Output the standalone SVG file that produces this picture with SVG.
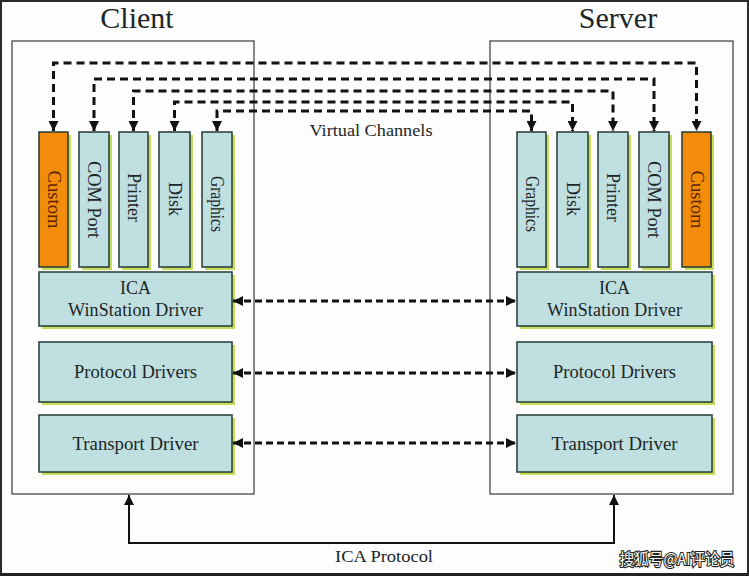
<svg xmlns="http://www.w3.org/2000/svg" width="749" height="576" viewBox="0 0 749 576">
<defs>
<style>
.t{font-family:"Liberation Serif","Times New Roman",serif;fill:#1c2626;}
.v{font-size:19px;}
.b{font-size:18px;}
.box{fill:#bfdfe1;stroke:#203a34;stroke-width:1.5;}
.org{fill:#f28c0a;stroke:#203a34;stroke-width:1.5;}
.sh{fill:#c6dc5a;}
.frame{fill:none;stroke:#3a3a3a;stroke-width:1.2;}
.dash{fill:none;stroke:#111;stroke-width:3;stroke-dasharray:8 5;}
.dash2{fill:none;stroke:#111;stroke-width:3;stroke-dasharray:7 4;}
.solid{fill:none;stroke:#111;stroke-width:2;}
</style>
<marker id="ah" viewBox="0 0 10 10" refX="10" refY="5" markerWidth="10" markerHeight="10" markerUnits="userSpaceOnUse" orient="auto-start-reverse">
<path d="M0,0 L10,5 L0,10 Z" fill="#111"/>
</marker>
</defs>
<rect x="0" y="0" width="749" height="576" fill="#fdfdfd"/>
<rect x="1" y="1" width="747" height="573" fill="none" stroke="#2a2a2a" stroke-width="2"/>
<line x1="0" y1="574.5" x2="749" y2="574.5" stroke="#222" stroke-width="3"/>

<g id="client">
<text class="t" x="137" y="28" font-size="30" text-anchor="middle">Client</text>
<rect class="frame" x="12" y="41" width="242" height="453"/>
</g>
<g id="server">
<text class="t" x="618" y="28" font-size="30" text-anchor="middle">Server</text>
<rect class="frame" x="490" y="41" width="243" height="453"/>
</g>

<g id="c-custom"><rect class="sh" x="42" y="135" width="29" height="135"/><rect class="org" x="39" y="132" width="29" height="135"/><text class="t v" text-anchor="middle" transform="translate(53.5,199.5) rotate(90)" dy="6" style="fill:#5a2400" textLength="58" lengthAdjust="spacingAndGlyphs">Custom</text></g>
<g id="c-com"><rect class="sh" x="82" y="135" width="30" height="135"/><rect class="box" x="79" y="132" width="30" height="135"/><text class="t v" text-anchor="middle" transform="translate(94,199.5) rotate(90)" dy="6" textLength="77" lengthAdjust="spacingAndGlyphs">COM Port</text></g>
<g id="c-printer"><rect class="sh" x="122" y="135" width="29" height="135"/><rect class="box" x="119" y="132" width="29" height="135"/><text class="t v" text-anchor="middle" transform="translate(133.5,197.5) rotate(90)" dy="6" textLength="49" lengthAdjust="spacingAndGlyphs">Printer</text></g>
<g id="c-disk"><rect class="sh" x="162" y="135" width="31" height="135"/><rect class="box" x="159" y="132" width="31" height="135"/><text class="t v" text-anchor="middle" transform="translate(174.5,199) rotate(90)" dy="6" textLength="34" lengthAdjust="spacingAndGlyphs">Disk</text></g>
<g id="c-graphics"><rect class="sh" x="205" y="135" width="30" height="135"/><rect class="box" x="202" y="132" width="30" height="135"/><text class="t v" text-anchor="middle" transform="translate(217,204) rotate(90)" dy="6" textLength="56" lengthAdjust="spacingAndGlyphs">Graphics</text></g>

<g id="s-graphics"><rect class="sh" x="520" y="135" width="29" height="135"/><rect class="box" x="517" y="132" width="29" height="135"/><text class="t v" text-anchor="middle" transform="translate(531.5,204) rotate(90)" dy="6" textLength="56" lengthAdjust="spacingAndGlyphs">Graphics</text></g>
<g id="s-disk"><rect class="sh" x="560" y="135" width="31" height="135"/><rect class="box" x="557" y="132" width="31" height="135"/><text class="t v" text-anchor="middle" transform="translate(572.5,199) rotate(90)" dy="6" textLength="34" lengthAdjust="spacingAndGlyphs">Disk</text></g>
<g id="s-printer"><rect class="sh" x="601" y="135" width="30" height="135"/><rect class="box" x="598" y="132" width="30" height="135"/><text class="t v" text-anchor="middle" transform="translate(613,197.5) rotate(90)" dy="6" textLength="49" lengthAdjust="spacingAndGlyphs">Printer</text></g>
<g id="s-com"><rect class="sh" x="642" y="135" width="30" height="135"/><rect class="box" x="639" y="132" width="30" height="135"/><text class="t v" text-anchor="middle" transform="translate(654,199.5) rotate(90)" dy="6" textLength="77" lengthAdjust="spacingAndGlyphs">COM Port</text></g>
<g id="s-custom"><rect class="sh" x="685" y="135" width="29" height="135"/><rect class="org" x="682" y="132" width="29" height="135"/><text class="t v" text-anchor="middle" transform="translate(696.5,199.5) rotate(90)" dy="6" style="fill:#5a2400" textLength="58" lengthAdjust="spacingAndGlyphs">Custom</text></g>

<g id="c-ica"><rect class="sh" x="42" y="275" width="193" height="54"/><rect class="box" x="39" y="272" width="193" height="54"/><text class="t b" text-anchor="middle" x="135.5" y="294">ICA</text><text class="t b" text-anchor="middle" x="135.5" y="316" textLength="135" lengthAdjust="spacing">WinStation Driver</text></g>
<g id="c-protocol"><rect class="sh" x="42" y="345" width="193" height="60"/><rect class="box" x="39" y="342" width="193" height="60"/><text class="t b" text-anchor="middle" x="135.5" y="378" textLength="123" lengthAdjust="spacingAndGlyphs">Protocol Drivers</text></g>
<g id="c-transport"><rect class="sh" x="42" y="418" width="193" height="57"/><rect class="box" x="39" y="415" width="193" height="57"/><text class="t b" text-anchor="middle" x="135.5" y="450" textLength="126" lengthAdjust="spacingAndGlyphs">Transport Driver</text></g>

<g id="s-ica"><rect class="sh" x="520" y="275" width="195" height="54"/><rect class="box" x="517" y="272" width="195" height="54"/><text class="t b" text-anchor="middle" x="614.5" y="294">ICA</text><text class="t b" text-anchor="middle" x="614.5" y="316" textLength="135" lengthAdjust="spacing">WinStation Driver</text></g>
<g id="s-protocol"><rect class="sh" x="520" y="345" width="195" height="60"/><rect class="box" x="517" y="342" width="195" height="60"/><text class="t b" text-anchor="middle" x="614.5" y="378" textLength="123" lengthAdjust="spacingAndGlyphs">Protocol Drivers</text></g>
<g id="s-transport"><rect class="sh" x="520" y="418" width="195" height="57"/><rect class="box" x="517" y="415" width="195" height="57"/><text class="t b" text-anchor="middle" x="614.5" y="450" textLength="126" lengthAdjust="spacingAndGlyphs">Transport Driver</text></g>

<g id="connectors">
<path class="dash" d="M53.5,131 V63 H696.5 V131" marker-start="url(#ah)" marker-end="url(#ah)"/>
<path class="dash" d="M94,131 V79 H654 V131" marker-start="url(#ah)" marker-end="url(#ah)"/>
<path class="dash" d="M133.5,131 V91 H613 V131" marker-start="url(#ah)" marker-end="url(#ah)"/>
<path class="dash" d="M174.5,131 V102 H572.5 V131" marker-start="url(#ah)" marker-end="url(#ah)"/>
<path class="dash" d="M217,131 V111 H531.5 V131" marker-start="url(#ah)" marker-end="url(#ah)"/>
<path class="dash2" d="M233,301 H516" marker-start="url(#ah)" marker-end="url(#ah)"/>
<path class="dash2" d="M233,373 H516" marker-start="url(#ah)" marker-end="url(#ah)"/>
<path class="dash2" d="M233,443 H516" marker-start="url(#ah)" marker-end="url(#ah)"/>
<path class="solid" d="M129,495 V543 H614 V495" marker-start="url(#ah)" marker-end="url(#ah)"/>
<text class="t" font-size="17" text-anchor="middle" x="371" y="136" textLength="123" lengthAdjust="spacingAndGlyphs">Virtual Channels</text>
<text class="t" font-size="17" text-anchor="middle" x="384" y="562" textLength="98" lengthAdjust="spacingAndGlyphs">ICA Protocol</text>
</g>
<text x="677" y="565" font-size="16" text-anchor="middle" font-family="'Noto Sans CJK SC',sans-serif" fill="#fff" stroke="#222" stroke-width="2.2" paint-order="stroke" textLength="115" lengthAdjust="spacingAndGlyphs">搜狐号@AI评论员</text>
</svg>
